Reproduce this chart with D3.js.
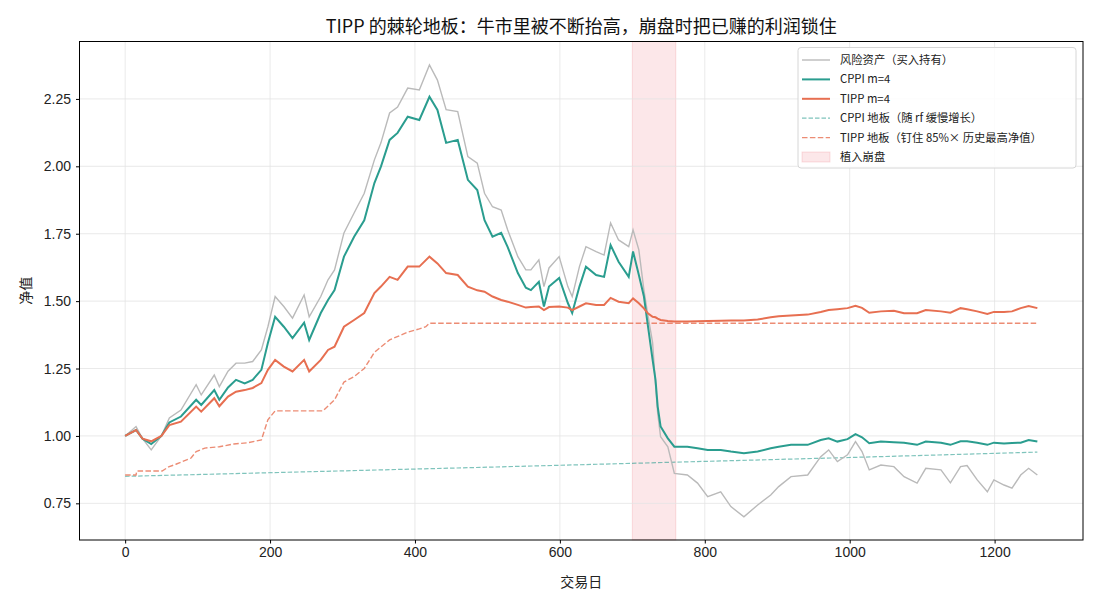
<!DOCTYPE html>
<html>
<head>
<meta charset="utf-8">
<script src="https://cdn.jsdelivr.net/npm/d3@7"></script>
<style>
	body { margin: 0; background: #fff; }
	svg { font-family: "Noto Sans CJK SC", "DejaVu Sans", sans-serif; }
</style>
</head>
<body>
<div id="chart"></div>
<script>

var days = [0, 15, 24, 36, 50, 61, 77, 98, 105, 123, 130, 142, 153, 165, 176, 188, 197, 207, 219, 231,
	247, 254, 270, 280, 289, 302, 316, 330, 344, 353, 365, 376, 390, 406, 420, 431, 443, 459, 473, 486,
	496, 507, 519, 528, 542, 553, 560, 571, 578, 585, 599, 611, 617, 627, 636, 650, 661, 670, 681, 695,
	701, 709, 716, 721, 728, 732, 735, 739, 749, 758, 776, 790, 804, 822, 836, 854, 873, 891, 902, 919,
	942, 960, 971, 983, 997, 1008, 1017, 1027, 1043, 1061, 1075, 1093, 1105, 1126, 1139, 1153, 1162, 1176, 1190, 1199,
	1213, 1224, 1236, 1247, 1259];

// risky asset, buy and hold
var risky = [1.0, 1.035, 0.99, 0.948, 1.0, 1.067, 1.096, 1.19, 1.152, 1.226, 1.183, 1.24, 1.27, 1.27, 1.276, 1.319, 1.405, 1.517, 1.48, 1.437,
	1.523, 1.442, 1.517, 1.579, 1.616, 1.753, 1.827, 1.90, 2.024, 2.087, 2.198, 2.22, 2.29, 2.283, 2.376, 2.32, 2.21, 2.203, 2.036, 2.012,
	1.90, 1.85, 1.838, 1.764, 1.665, 1.616, 1.616, 1.653, 1.554, 1.623, 1.665, 1.554, 1.517, 1.628, 1.702, 1.684, 1.671, 1.79, 1.727, 1.702,
	1.764, 1.69, 1.541, 1.456, 1.345, 1.19, 1.084, 0.997, 0.96, 0.861, 0.855, 0.825, 0.775, 0.793, 0.738, 0.70, 0.744, 0.781, 0.812, 0.849,
	0.855, 0.923, 0.948, 0.905, 0.93, 0.979, 0.942, 0.874, 0.892, 0.886, 0.849, 0.825, 0.88, 0.874, 0.826, 0.886, 0.89, 0.837, 0.793, 0.837,
	0.818, 0.806, 0.855, 0.88, 0.855];

// CPPI m=4
var cppi = [1.0, 1.022, 0.99, 0.97, 1.0, 1.05, 1.072, 1.134, 1.115, 1.17, 1.134, 1.18, 1.208, 1.195, 1.208, 1.245, 1.345, 1.442, 1.405, 1.363,
	1.42, 1.356, 1.456, 1.504, 1.541, 1.665, 1.739, 1.80, 1.938, 1.999, 2.098, 2.124, 2.184, 2.172, 2.258, 2.209, 2.087, 2.098, 1.95, 1.912,
	1.80, 1.739, 1.753, 1.70, 1.604, 1.55, 1.541, 1.572, 1.48, 1.554, 1.586, 1.493, 1.456, 1.554, 1.628, 1.597, 1.59, 1.708, 1.646, 1.59,
	1.684, 1.597, 1.517, 1.418, 1.282, 1.208, 1.109, 1.035, 0.991, 0.96, 0.96, 0.954, 0.948, 0.948, 0.942, 0.936, 0.942, 0.954, 0.96, 0.967,
	0.967, 0.985, 0.991, 0.979, 0.988, 1.007, 0.995, 0.973, 0.979, 0.977, 0.975, 0.967, 0.979, 0.975, 0.967, 0.98, 0.98, 0.975, 0.967, 0.975,
	0.972, 0.974, 0.975, 0.985, 0.979];

// TIPP m=4
var tipp = [1.0, 1.022, 0.99, 0.98, 1.0, 1.04, 1.053, 1.109, 1.09, 1.14, 1.11, 1.146, 1.164, 1.17, 1.178, 1.196, 1.245, 1.282, 1.257, 1.239,
	1.282, 1.239, 1.282, 1.319, 1.331, 1.405, 1.43, 1.456, 1.53, 1.554, 1.59, 1.579, 1.628, 1.628, 1.665, 1.64, 1.604, 1.597, 1.554, 1.54,
	1.535, 1.517, 1.504, 1.498, 1.486, 1.476, 1.478, 1.48, 1.467, 1.478, 1.48, 1.476, 1.467, 1.48, 1.492, 1.486, 1.486, 1.512, 1.498, 1.492,
	1.51, 1.492, 1.473, 1.456, 1.442, 1.44, 1.435, 1.43, 1.426, 1.424, 1.424, 1.425, 1.426, 1.427, 1.428, 1.428, 1.432, 1.44, 1.444, 1.447,
	1.45, 1.46, 1.467, 1.47, 1.474, 1.483, 1.475, 1.457, 1.462, 1.464, 1.455, 1.455, 1.467, 1.462, 1.457, 1.474, 1.47, 1.462, 1.452, 1.46,
	1.46, 1.462, 1.474, 1.482, 1.474];

// CPPI floor grows with rf
var cppiFloorDays = [0, 250, 500, 750, 1000, 1259];
var cppiFloor = [0.850, 0.867, 0.884, 0.902, 0.920, 0.940];

// TIPP floor pinned to 85% of the running max
var tippFloorDays = [0, 15, 16, 51, 60, 70, 91, 98, 110, 130, 150, 170, 188, 197, 207, 273, 289, 302, 316, 330, 344, 353, 365, 390, 406, 415, 420, 1259];
var tippFloor = [0.855, 0.855, 0.87, 0.87, 0.885, 0.895, 0.918, 0.942, 0.955, 0.96, 0.97, 0.975, 0.985, 1.06, 1.093, 1.093, 1.134, 1.20, 1.22, 1.25, 1.31, 1.33, 1.356, 1.385, 1.397, 1.405, 1.418, 1.418];

// crash window
var crash = [700, 760];

var xTicks = [0, 200, 400, 600, 800, 1000, 1200];
var yTicks = [0.75, 1.00, 1.25, 1.50, 1.75, 2.00, 2.25];

// main function
function drawChart () {

	var width = 1100, height = 605;
	var left = 79.5, right = 1083, top = 41.5, bottom = 540;

	var x = d3.scaleLinear().domain([-63, 1322]).range([left, right]);
	var y = d3.scaleLinear().domain([0.614, 2.463]).range([bottom, top]);

	var svg = d3.select("#chart")
		.append("svg")
			.attr("width", width)
			.attr("height", height);

	// crash span
	svg.append("rect")
			.attr("x", x(crash[0]))
			.attr("y", top)
			.attr("width", x(crash[1]) - x(crash[0]))
			.attr("height", bottom - top)
			.attr("fill", "#e63946")
			.attr("fill-opacity", 0.12)
			.attr("stroke", "#e63946")
			.attr("stroke-opacity", 0.15);

	// grid
	var grid = svg.append("g").attr("stroke", "#e3e3e3").attr("stroke-width", 0.8);
	xTicks.forEach(function (t) {
		grid.append("line").attr("x1", x(t)).attr("x2", x(t)).attr("y1", top).attr("y2", bottom);
	});
	yTicks.forEach(function (t) {
		grid.append("line").attr("x1", left).attr("x2", right).attr("y1", y(t)).attr("y2", y(t));
	});

	function pairs (ds, vs) {
		return ds.map(function (d, i) { return [d, vs[i]]; });
	}

	var line = d3.line()
		.x(function (d) { return x(d[0]); })
		.y(function (d) { return y(d[1]); });

	// floors
	svg.append("path")
			.attr("d", line(pairs(cppiFloorDays, cppiFloor)))
			.attr("fill", "none")
			.attr("stroke", "#2a9d8f")
			.attr("stroke-opacity", 0.6)
			.attr("stroke-width", 1.2)
			.attr("stroke-dasharray", "4.5,2");

	svg.append("path")
			.attr("d", line(pairs(tippFloorDays, tippFloor)))
			.attr("fill", "none")
			.attr("stroke", "#e76f51")
			.attr("stroke-opacity", 0.8)
			.attr("stroke-width", 1.4)
			.attr("stroke-dasharray", "5.5,2.4");

	// series
	svg.append("path")
			.attr("d", line(pairs(days, risky)))
			.attr("fill", "none")
			.attr("stroke", "#bababa")
			.attr("stroke-width", 1.4);

	svg.append("path")
			.attr("d", line(pairs(days, cppi)))
			.attr("fill", "none")
			.attr("stroke", "#2a9d8f")
			.attr("stroke-width", 2);

	svg.append("path")
			.attr("d", line(pairs(days, tipp)))
			.attr("fill", "none")
			.attr("stroke", "#e76f51")
			.attr("stroke-width", 2);

	// axes
	svg.append("g")
			.attr("transform", "translate(0," + bottom + ")")
			.call(d3.axisBottom(x).tickValues(xTicks).tickSize(3.5).tickPadding(4).tickFormat(d3.format("d")))
			.call(function (g) { g.select(".domain").remove(); })
			.selectAll("text").attr("font-size", 14).attr("fill", "#222");

	svg.append("g")
			.attr("transform", "translate(" + left + ",0)")
			.call(d3.axisLeft(y).tickValues(yTicks).tickSize(3.5).tickPadding(5).tickFormat(d3.format(".2f")))
			.call(function (g) { g.select(".domain").remove(); })
			.selectAll("text").attr("font-size", 14).attr("fill", "#222");

	// frame
	svg.append("rect")
			.attr("x", left)
			.attr("y", top)
			.attr("width", right - left)
			.attr("height", bottom - top)
			.attr("fill", "none")
			.attr("stroke", "#000")
			.attr("stroke-width", 1);

	// labels
	svg.append("text")
			.attr("x", (left + right) / 2)
			.attr("y", 33)
			.attr("text-anchor", "middle")
			.attr("font-size", 18)
			.attr("fill", "#111")
			.text("TIPP 的棘轮地板：牛市里被不断抬高，崩盘时把已赚的利润锁住");

	svg.append("text")
			.attr("x", (left + right) / 2)
			.attr("y", 587)
			.attr("text-anchor", "middle")
			.attr("font-size", 14)
			.attr("fill", "#222")
			.text("交易日");

	svg.append("text")
			.attr("transform", "translate(31," + ((top + bottom) / 2) + ") rotate(-90)")
			.attr("text-anchor", "middle")
			.attr("font-size", 14)
			.attr("fill", "#222")
			.text("净值");

	// legend
	var items = [
		{ label: "风险资产（买入持有）", color: "#bababa", width: 1.4, dash: null, op: 1 },
		{ label: "CPPI m=4", color: "#2a9d8f", width: 2, dash: null, op: 1 },
		{ label: "TIPP m=4", color: "#e76f51", width: 2, dash: null, op: 1 },
		{ label: "CPPI 地板（随 rf 缓慢增长）", color: "#2a9d8f", width: 1.2, dash: "4.5,2", op: 0.6 },
		{ label: "TIPP 地板（钉住 85%× 历史最高净值）", color: "#e76f51", width: 1.4, dash: "5.5,2.4", op: 0.8 },
		{ label: "植入崩盘", box: true }
	];

	var lg = svg.append("g");
	lg.append("rect")
			.attr("x", 798)
			.attr("y", 47.5)
			.attr("width", 278)
			.attr("height", 120.5)
			.attr("rx", 3)
			.attr("fill", "#fff")
			.attr("fill-opacity", 0.85)
			.attr("stroke", "#d6d6d6");

	items.forEach(function (it, i) {
		var cy = 60 + i * 19.4;
		if (it.box) {
			lg.append("rect")
					.attr("x", 802).attr("y", cy - 5).attr("width", 28).attr("height", 10)
					.attr("fill", "#e63946").attr("fill-opacity", 0.12)
					.attr("stroke", "#e63946").attr("stroke-opacity", 0.15);
		} else {
			lg.append("line")
					.attr("x1", 802).attr("x2", 830).attr("y1", cy).attr("y2", cy)
					.attr("stroke", it.color)
					.attr("stroke-width", it.width)
					.attr("stroke-opacity", it.op)
					.attr("stroke-dasharray", it.dash);
		}
		lg.append("text")
				.attr("x", 840)
				.attr("y", cy + 4)
				.attr("font-size", 11.3)
				.attr("fill", "#222")
				.text(it.label);
	});
}

drawChart();
</script>
</body>
</html>
